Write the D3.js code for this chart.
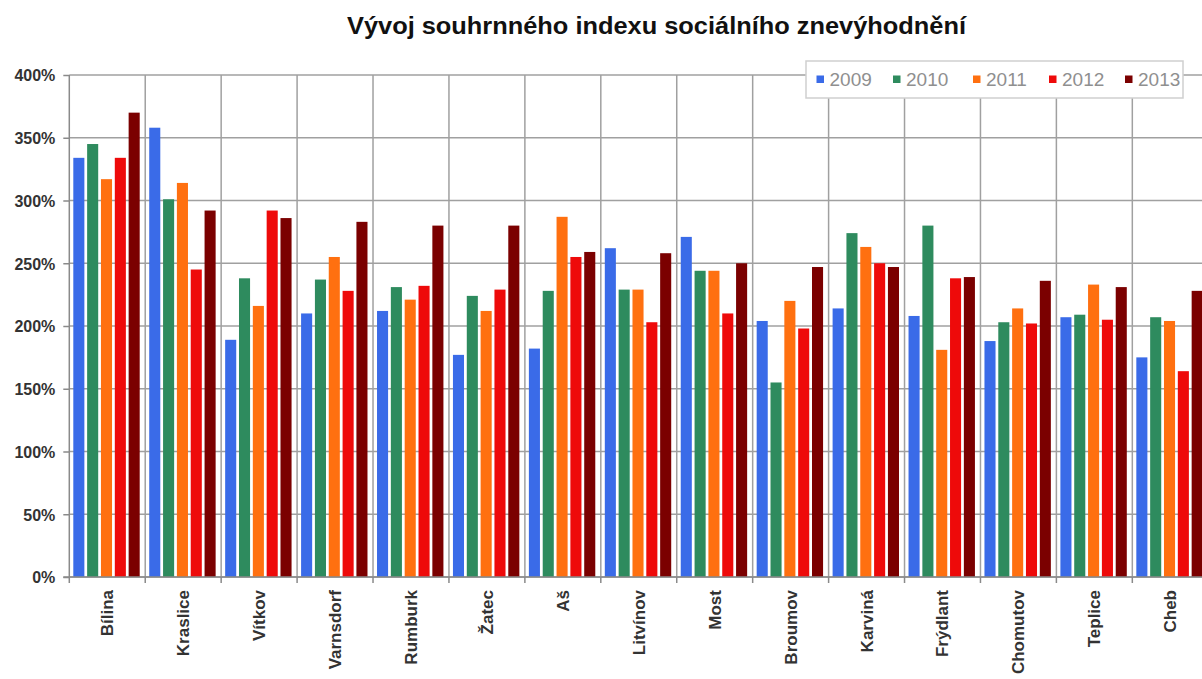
<!DOCTYPE html>
<html><head><meta charset="utf-8">
<script src="https://cdn.jsdelivr.net/npm/d3@7"></script>
<style>body{margin:0;background:#fff;}svg{display:block;font-family:"Liberation Sans",Arial,sans-serif;}</style>
</head><body>
<svg id="chart" width="1202" height="679"></svg>
<script>
const title = "Vývoj souhrnného indexu sociálního znevýhodnění";
const categories = ["Bílina","Kraslice","Vítkov","Varnsdorf","Rumburk","Žatec","Aš","Litvínov","Most","Broumov","Karviná","Frýdlant","Chomutov","Teplice","Cheb"];
const years = ["2009","2010","2011","2012","2013"];
const v2009 = [334,358,189,210,212,177,182,262,271,204,214,208,188,207,175];
const v2010 = [345,301,238,237,231,224,228,229,244,155,274,280,203,209,207];
const v2011 = [317,314,216,255,221,212,287,229,244,220,263,181,214,233,204];
const v2012 = [334,245,292,228,232,229,255,203,210,198,250,238,202,205,164];
const v2013 = [370,292,286,283,280,280,259,258,250,247,247,239,236,231,228];
const seriesValues = [v2009,v2010,v2011,v2012,v2013];
const colors = ["#3a6be8","#2e8b5e","#ff7010","#ee0a0a","#7b0000"];
const yTicks = [0,50,100,150,200,250,300,350,400];

(function(){
const svg = d3.select("#chart");
const pL = 69.3, pR = 69.3 + 15*75.93, pT = 75, pB = 577;
const x = d3.scaleBand().domain(categories).range([pL, pR]).padding(0);
const xi = d3.scaleBand().domain(years).range([4, 4 + 4*13.85 + 11]).paddingInner(0.2).paddingOuter(0);
const y = d3.scaleLinear().domain([0,400]).range([pB, pT]);

// horizontal grid
svg.append("g").selectAll("line").data(yTicks).join("line")
  .attr("x1", pL).attr("x2", pR)
  .attr("y1", d => y(d)).attr("y2", d => y(d))
  .attr("stroke", "#a0a0a0").attr("stroke-width", 1.5);
// vertical grid
const bounds = categories.map(c => x(c)).concat([pR]);
svg.append("g").selectAll("line").data(bounds.slice(1)).join("line")
  .attr("x1", d => d).attr("x2", d => d)
  .attr("y1", pT).attr("y2", pB)
  .attr("stroke", "#a0a0a0").attr("stroke-width", 1.5);

// bars
const data = [];
categories.forEach((c, i) => years.forEach((yr, j) => data.push({c, yr, j, v: seriesValues[j][i]})));
svg.append("g").selectAll("rect").data(data).join("rect")
  .attr("x", d => x(d.c) + xi(d.yr))
  .attr("width", xi.bandwidth())
  .attr("y", d => y(d.v))
  .attr("height", d => pB - y(d.v))
  .attr("fill", d => colors[d.j]);

// y axis
const yAxis = d3.axisLeft(y).tickValues(yTicks).tickFormat(d => d + "%").tickSize(6).tickPadding(8);
const gy = svg.append("g").attr("transform", `translate(${pL},0)`).call(yAxis);
gy.select(".domain").attr("stroke", "#8a8a8a").attr("stroke-width", 1.5).attr("d", `M0,${pT}V${pB}`);
gy.selectAll(".tick line").attr("stroke", "#8a8a8a").attr("stroke-width", 1.5);
gy.selectAll(".tick text").attr("fill", "#333").attr("font-size", 16).attr("font-weight", "bold")
  .attr("font-family", "'Liberation Sans',Arial,sans-serif").attr("dy", "0.36em");

// x axis
svg.append("line").attr("x1", pL - 6).attr("x2", pR).attr("y1", pB).attr("y2", pB)
  .attr("stroke", "#8a8a8a").attr("stroke-width", 1.5);
svg.append("g").selectAll("line").data(bounds).join("line")
  .attr("x1", d => d).attr("x2", d => d).attr("y1", pB).attr("y2", pB + 6)
  .attr("stroke", "#8a8a8a").attr("stroke-width", 1.5);
svg.append("g").selectAll("text").data(categories).join("text")
  .attr("transform", d => `translate(${x(d) + x.bandwidth()/2 + 6},590) rotate(-90)`)
  .attr("text-anchor", "end")
  .attr("font-size", 17).attr("font-weight", "bold").attr("fill", "#333")
  .text(d => d);

// title
svg.append("text").attr("x", 656.5).attr("y", 33.5).attr("text-anchor", "middle")
  .attr("font-size", 23.5).attr("font-weight", "bold").attr("fill", "#111")
  .attr("textLength", 619).attr("lengthAdjust", "spacingAndGlyphs").text(title);

// legend
const lg = svg.append("g");
lg.append("rect").attr("x", 806).attr("y", 61).attr("width", 377).attr("height", 37)
  .attr("fill", "#fff").attr("stroke", "#cfcfcf").attr("stroke-width", 1.5);
const lx = [816.5, 893, 973, 1049, 1125];
years.forEach((yr, j) => {
  lg.append("rect").attr("x", lx[j]).attr("y", 75.5).attr("width", 7.5).attr("height", 7.5).attr("fill", colors[j]);
  lg.append("text").attr("x", lx[j] + 13).attr("y", 85.5).attr("font-size", 19)
    .attr("fill", "#8f8f8f").text(yr);
});
})();
</script>
</body></html>
